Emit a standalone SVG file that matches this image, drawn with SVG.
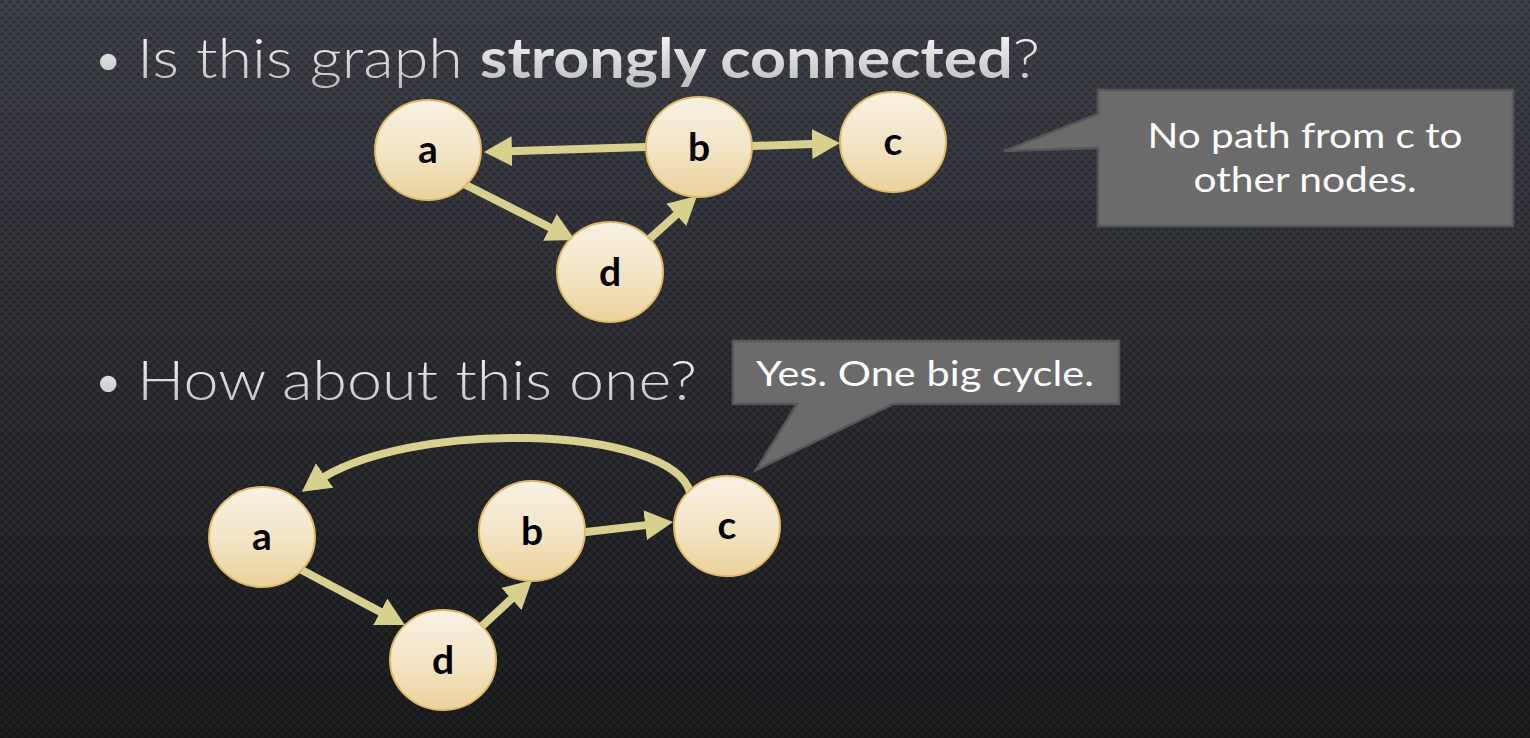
<svg xmlns="http://www.w3.org/2000/svg" width="1530" height="738" viewBox="0 0 1530 738">
<defs>
<linearGradient id="bg" x1="0" y1="0" x2="0" y2="1">
<stop offset="0" stop-color="#3d4048"/>
<stop offset="0.5" stop-color="#2b2d32"/>
<stop offset="1" stop-color="#1b1c1e"/>
</linearGradient>
<pattern id="tex" width="8" height="8" patternUnits="userSpaceOnUse">
<circle cx="2" cy="2" r="1.6" fill="#000" fill-opacity="0.28"/>
<circle cx="6" cy="6" r="1.6" fill="#000" fill-opacity="0.28"/>
<circle cx="6" cy="2" r="1" fill="#fff" fill-opacity="0.04"/>
</pattern>
<linearGradient id="nodeFill" x1="0" y1="0" x2="0" y2="1">
<stop offset="0" stop-color="#f8f1e4"/>
<stop offset="0.5" stop-color="#f3e5c6"/>
<stop offset="1" stop-color="#ebd29c"/>
</linearGradient>
<linearGradient id="txt" x1="0" y1="0" x2="0" y2="1">
<stop offset="0" stop-color="#ffffff"/>
<stop offset="1" stop-color="#b9b9b9"/>
</linearGradient>
<marker id="arr" markerUnits="userSpaceOnUse" markerWidth="28" markerHeight="30" viewBox="0 0 28 30" refX="14" refY="15" orient="auto">
<path d="M0,0 L28,15 L0,30 Z" fill="#d8d18e"/>
</marker>
</defs>
<style>
.node ellipse{fill:url(#nodeFill);stroke:#dfb864;stroke-width:2}
.node text{font-family:Lato,"Liberation Sans",sans-serif;font-weight:700;font-size:39px;fill:#000;text-anchor:middle}
.edge{fill:none;stroke:#d8d18e;stroke-width:8;stroke-linecap:round;marker-end:url(#arr)}
.title{font-family:Lato,"Liberation Sans",sans-serif;font-weight:300;font-size:56px;fill:url(#txt)}
.callout path{fill:#6b6b6b;stroke:#575757;stroke-width:2.5}
.callout text{font-family:Lato,"Liberation Sans",sans-serif;font-size:35px;fill:#ffffff;text-anchor:middle}
</style>
<rect width="1530" height="738" fill="url(#bg)"/>
<rect width="1530" height="738" fill="url(#tex)"/>

<g id="titles">
<text class="title" x="92" y="78">•</text>
<text class="title" x="137" y="78" textLength="903" lengthAdjust="spacingAndGlyphs">Is this graph <tspan font-weight="700">strongly connected</tspan>?</text>
<text class="title" x="92" y="400">•</text>
<text class="title" x="137" y="400" textLength="560" lengthAdjust="spacingAndGlyphs">How about this one?</text>
</g>

<g id="connectors">
<path class="edge" d="M645,147 L498,151.6"/>
<path class="edge" d="M752,146 L826,143.5"/>
<path class="edge" d="M464,184 L562.5,233.7"/>
<path class="edge" d="M645,243 L686.6,205.4"/>
<path class="edge" d="M586,532 L659.1,523.6"/>
<path class="edge" d="M298,568 L392.6,618.4"/>
<path class="edge" d="M481,627 L521.7,589.5"/>
<path class="edge" d="M690,492 C670,425 405,418 313.3,483.7"/>
</g>

<g id="top-a" class="node"><ellipse cx="428" cy="150" rx="53" ry="50"/><text x="428" y="163">a</text></g>
<g id="top-b" class="node"><ellipse cx="699" cy="147" rx="53" ry="50"/><text x="699" y="161">b</text></g>
<g id="top-c" class="node"><ellipse cx="893" cy="142" rx="53" ry="50"/><text x="893" y="155">c</text></g>
<g id="top-d" class="node"><ellipse cx="610" cy="272" rx="53" ry="50"/><text x="610" y="286">d</text></g>

<g id="bot-a" class="node"><ellipse cx="262" cy="537" rx="53" ry="50"/><text x="262" y="550">a</text></g>
<g id="bot-b" class="node"><ellipse cx="532" cy="531" rx="53" ry="50"/><text x="532" y="545">b</text></g>
<g id="bot-c" class="node"><ellipse cx="727" cy="526" rx="53" ry="50"/><text x="727" y="539">c</text></g>
<g id="bot-d" class="node"><ellipse cx="443" cy="660" rx="53" ry="50"/><text x="443" y="674">d</text></g>

<g id="callout-top" class="callout">
<path d="M1098,90 H1513 V226 H1098 V148 L1004,151 L1098,114 Z"/>
<text x="1305" y="148" textLength="315" lengthAdjust="spacingAndGlyphs">No path from c to</text>
<text x="1305" y="192" textLength="223" lengthAdjust="spacingAndGlyphs">other nodes.</text>
</g>
<g id="callout-bottom" class="callout">
<path d="M733,341 H1119 V404 H893 L756,470 L797,404 H733 Z"/>
<text x="925" y="386" textLength="338" lengthAdjust="spacingAndGlyphs">Yes. One big cycle.</text>
</g>
</svg>
